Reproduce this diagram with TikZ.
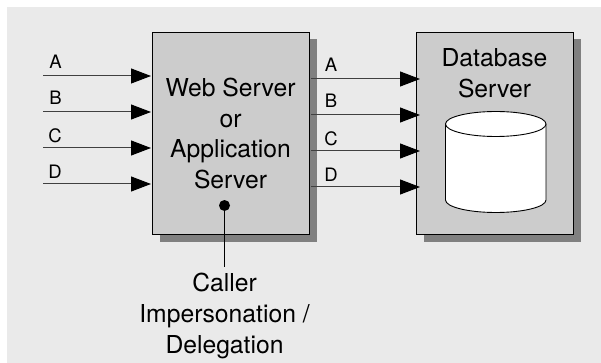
\documentclass[tikz,border=0pt]{standalone}
\usepackage{fontspec}
\setmainfont{TeX Gyre Heros}
\usetikzlibrary{shapes,shadows,arrows.meta,positioning}
\definecolor{panelgrey}{HTML}{EAEAEA}
\definecolor{boxgrey}{HTML}{CCCCCC}
\definecolor{shadowgrey}{HTML}{808080}
\begin{document}
\begin{tikzpicture}[x=1pt,y=-1pt,
  every node/.append style={inner sep=0pt,outer sep=0pt}]
  \tikzstyle{server} = [rectangle,draw=black,line width=0.9pt,fill=boxgrey,
    minimum width=157pt,minimum height=202pt,align=center,
    font=\fontsize{24.7}{30.7}\selectfont,
    drop shadow={shadow xshift=7.5pt,shadow yshift=-7pt,fill=shadowgrey,opacity=1}]
  \tikzstyle{word} = [align=center,font=\fontsize{24.7}{31}\selectfont]
  \tikzstyle{letter} = [font=\fontsize{18.5}{20}\selectfont]
  \tikzstyle{flow} = [line width=1pt,draw=black!75,-{Triangle[length=20pt,width=15pt,color=black]}]
  \useasboundingbox (0,0) rectangle (601,363);
  \fill[panelgrey] (7,7) rectangle (601,363);
  \node (web) [server] at (230.5,133.5) {Web Server\\or\\Application\\Server};
  \node (db) [server] at (494.5,133.5) {};
  \node (db_title) [word] at (494.5,73) {Database\\Server};
  % the disk
  \draw[line width=0.9pt,fill=white] (445.5,124) -- (445.5,200) arc (180:0:50.25 and 12.5) -- (546,124);
  \draw[line width=0.9pt,fill=white] (495.75,124) ellipse (50.25 and 12.5);
  % incoming calls
  \coordinate (in_a) at (43,76);
  \coordinate (in_b) at (43,112);
  \coordinate (in_c) at (43,148);
  \coordinate (in_d) at (43,184);
  \coordinate (web_a) at (151,76);
  \coordinate (web_b) at (151,112);
  \coordinate (web_c) at (151,148);
  \coordinate (web_d) at (151,184);
  \draw[flow] (in_a) -- (web_a);
  \draw[flow] (in_b) -- (web_b);
  \draw[flow] (in_c) -- (web_c);
  \draw[flow] (in_d) -- (web_d);
  \node (in_a_label) [letter] at (55.5,61.5) {A};
  \node (in_b_label) [letter] at (55.5,97.5) {B};
  \node (in_c_label) [letter] at (55,136) {C};
  \node (in_d_label) [letter] at (55,172) {D};
  % outgoing calls
  \coordinate (out_a) at (311,79);
  \coordinate (out_b) at (311,115);
  \coordinate (out_c) at (311,151);
  \coordinate (out_d) at (311,187);
  \coordinate (db_a) at (420,79);
  \coordinate (db_b) at (420,115);
  \coordinate (db_c) at (420,151);
  \coordinate (db_d) at (420,187);
  \draw[flow] (out_a) -- (db_a);
  \draw[flow] (out_b) -- (db_b);
  \draw[flow] (out_c) -- (db_c);
  \draw[flow] (out_d) -- (db_d);
  \node (out_a_label) [letter] at (331,64.5) {A};
  \node (out_b_label) [letter] at (331,100.5) {B};
  \node (out_c_label) [letter] at (331,139) {C};
  \node (out_d_label) [letter] at (331,175) {D};
  % caller note
  \node (dot) [circle,fill=black,minimum size=11pt] at (224.5,205.5) {};
  \node (note) [word] at (224.5,315.5) {Caller\\Impersonation /\\Delegation};
  \coordinate (note_top) at (224.5,267);
  \draw[line width=0.9pt] (dot) -- (note_top);
\end{tikzpicture}
\end{document}
